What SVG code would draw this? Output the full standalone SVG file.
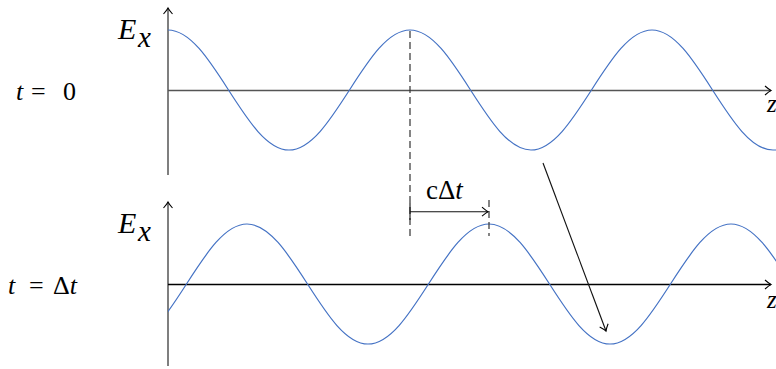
<svg xmlns="http://www.w3.org/2000/svg" width="776" height="369" viewBox="0 0 776 369">
<style>
.wave{fill:none;stroke:#4472c4;stroke-width:1.2}
.ax{fill:none;stroke:#555;stroke-width:1.5}
.axb{fill:none;stroke:#000;stroke-width:1.3}
.dash{fill:none;stroke:#333;stroke-width:1.2;stroke-dasharray:7 4}
.conn{fill:none;stroke:#111;stroke-width:1.1}
text{font-family:"Liberation Serif","Times New Roman",serif;fill:#000}
.it{font-style:italic}
</style>
<defs>
<marker id="ah" viewBox="-8 -6 10 12" refX="0" refY="0" markerWidth="10" markerHeight="12" markerUnits="userSpaceOnUse" orient="auto" overflow="visible">
<path d="M-6,-4.5 Q-2,-1 0,0 Q-2,1 -6,4.5" fill="none" stroke="#000" stroke-width="1.1"/>
</marker>
<clipPath id="clipB"><rect x="168" y="190" width="608" height="179"/></clipPath>
</defs>
<g id="top-plot">
<line class="ax" x1="168" y1="175" x2="168" y2="8" marker-end="url(#ah)"/>
<line class="ax" x1="168" y1="90.5" x2="771" y2="90.5" marker-end="url(#ah)"/>
<path class="wave" d="M168,30 C189.89,30 208.77,59.26 228.5,90 C248.23,120.74 267.11,150 289,150 C310.89,150 329.77,120.74 349.5,90 C369.23,59.26 388.11,30 410,30 C431.89,30 450.77,59.26 470.5,90 C490.23,120.74 509.11,150 531,150 C552.89,150 571.77,120.74 591.5,90 C611.23,59.26 630.11,30 652,30 C673.89,30 692.77,59.26 712.5,90 C732.23,120.74 751.11,150 773,150 C794.89,150 813.77,120.74 833.5,90"/>
<text class="it" x="118" y="39" font-size="30">E</text>
<text class="it" x="138" y="47" font-size="29">x</text>
<text class="it" x="767" y="112" font-size="25">z</text>
</g>
<g id="bottom-plot">
<line class="ax" x1="168" y1="366" x2="168" y2="202" marker-end="url(#ah)"/>
<line class="axb" x1="168" y1="284.5" x2="771" y2="284.5" marker-end="url(#ah)"/>
<path class="wave" clip-path="url(#clipB)" d="M126,344 C147.89,344 166.77,314.74 186.5,284 C206.23,253.26 225.11,224 247,224 C268.89,224 287.77,253.26 307.5,284 C327.23,314.74 346.11,344 368,344 C389.89,344 408.77,314.74 428.5,284 C448.23,253.26 467.11,224 489,224 C510.89,224 529.77,253.26 549.5,284 C569.23,314.74 588.11,344 610,344 C631.89,344 650.77,314.74 670.5,284 C690.23,253.26 709.11,224 731,224 C752.89,224 771.77,253.26 791.5,284"/>
<text class="it" x="118" y="233" font-size="30">E</text>
<text class="it" x="138" y="241" font-size="29">x</text>
<text class="it" x="767" y="308" font-size="25">z</text>
</g>
<g id="label-t0">
<text x="16" y="100" font-size="26"><tspan class="it">t</tspan><tspan x="31">=</tspan><tspan x="63">0</tspan></text>
</g>
<g id="label-tdt">
<text x="8" y="294" font-size="26"><tspan class="it">t</tspan><tspan x="29">=</tspan><tspan x="53">Δ</tspan><tspan class="it">t</tspan></text>
</g>
<g id="connectors">
<line class="dash" x1="410" y1="31" x2="410" y2="236"/>
<line class="dash" x1="489" y1="200" x2="489" y2="236"/>
<line class="conn" x1="410" y1="203" x2="410" y2="220"/>
<line class="conn" x1="410" y1="211.7" x2="488" y2="211.7" marker-end="url(#ah)"/>
<line class="conn" x1="543" y1="163" x2="606" y2="331" marker-end="url(#ah)"/>
</g>
<g id="label-cdt">
<text x="426" y="199" font-size="27">cΔ<tspan class="it">t</tspan></text>
</g>
</svg>
